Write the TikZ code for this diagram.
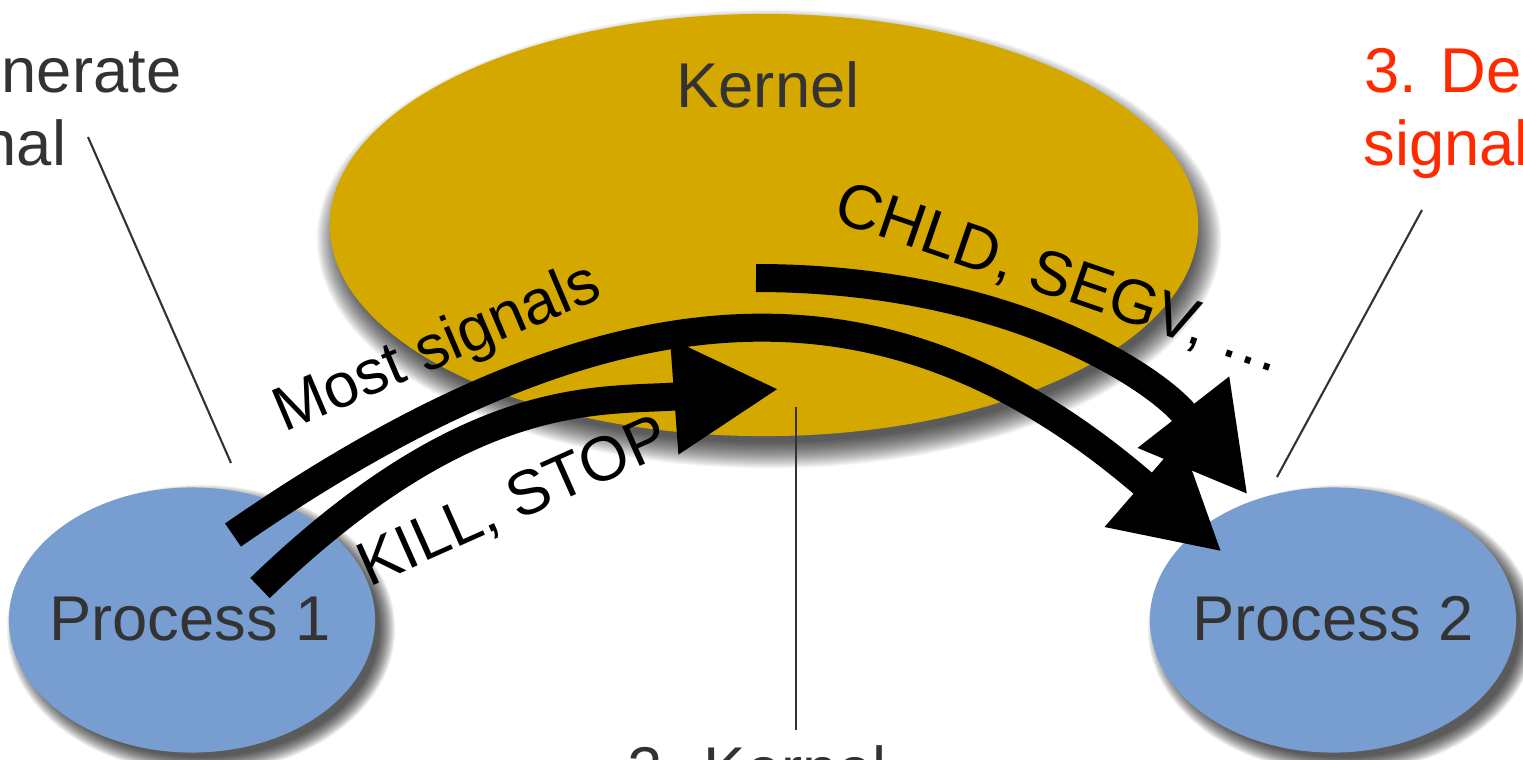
\documentclass[tikz,border=0pt]{standalone}
\usepackage{fontspec}
\setmainfont{Liberation Sans}
\usetikzlibrary{arrows.meta,shapes.geometric}

\definecolor{kernelgold}{RGB}{213,168,0}
\definecolor{procblue}{RGB}{120,157,208}
\definecolor{labelgray}{RGB}{51,51,51}
\definecolor{stepred}{RGB}{255,42,0}

% soft shadow under an oval: centre x, centre y, radius x, radius y, blur (picture units)
\newcommand\ovalshadow[5]{%
  \foreach \k in {0,...,19}{%
    \fill[black, opacity=0.046] (#1,#2) ellipse
      [x radius={(#3+#5*(0.7-\k/19))*0.01cm},
       y radius={(#4+#5*(0.7-\k/19))*0.01cm}];
  }}

\tikzset{
  big/.style={font=\fontsize{18pt}{21pt}\selectfont, text=labelgray, inner sep=0pt},
  flow/.style={font=\fontsize{17.8pt}{20pt}\selectfont, text=black, inner sep=0pt},
  oval/.style={ellipse, inner sep=0pt, draw=none},
  sigarrow/.style={line width=2.8mm, draw=black, line cap=butt,
    -{Triangle[length=10.5mm, width=10.8mm]}},
  callout/.style={line width=0.6pt, draw=labelgray},
}

\begin{document}
\begin{tikzpicture}[x=0.01cm, y=-0.01cm]
  \fill[white] (0,0) rectangle (1523,760);
  \useasboundingbox (0,0) rectangle (1523,760);

  % ovals with their shadows
  \ovalshadow{769}{239}{434}{211}{26}
  \node[oval, fill=kernelgold, minimum width=8.68cm, minimum height=4.22cm] (kernel) at (764,225) {};
  \ovalshadow{201}{629}{183}{133}{16}
  \ovalshadow{1342}{629}{183}{133}{16}
  \node[oval, fill=procblue, minimum width=3.66cm, minimum height=2.65cm] (proc1) at (192,620) {};
  \node[oval, fill=procblue, minimum width=3.66cm, minimum height=2.65cm] (proc2) at (1333,620) {};

  \node[big, anchor=base] (kname) at (768,107) {Kernel};
  \node[big, anchor=base] (p1name) at (190,640) {Process 1};
  \node[big, anchor=base] (p2name) at (1333,640) {Process 2};

  % step captions
  \node[big, anchor=base east] (gen1) at (182,92) {1. Generate};
  \node[big, anchor=base east] (gen2) at (67,165) {signal};
  \node[big, anchor=base west, text=stepred] (del1) at (1364,92) {3. Deliver};
  \node[big, anchor=base west, text=stepred] (del2) at (1363,165) {signal};
  \node[big, anchor=base west] (handle) at (627,791) {2. Kernel};

  % callout lines
  \coordinate (gen-a) at (88,137);   \coordinate (gen-b) at (231,463);
  \coordinate (del-a) at (1422,210); \coordinate (del-b) at (1277,477);
  \coordinate (han-a) at (796,407);  \coordinate (han-b) at (796,730);
  \draw[callout] (gen-a) -- (gen-b);
  \draw[callout] (del-a) -- (del-b);
  \draw[callout] (han-a) -- (han-b);

  % signal paths
  \coordinate (most-s) at (233,535);  \coordinate (most-e) at (1222,552);
  \coordinate (kill-s) at (260,588);  \coordinate (kill-e) at (779,389);
  \coordinate (chld-s) at (756,278);  \coordinate (chld-e) at (1248,495);
  \draw[sigarrow] (most-s) .. controls (621,266) and (895,268) .. (most-e);
  \draw[sigarrow] (kill-s) .. controls (470,385) and (600,402) .. (kill-e);
  \draw[sigarrow] (chld-s) .. controls (1006,278) and (1156,377) .. (chld-e);

  \node[flow, rotate=23] (most) at (438,350) {Most signals};
  \node[flow, rotate=24] (killstop) at (514,503) {KILL, STOP};
  \node[flow, rotate=-19] (chld) at (1060,280) {CHLD, SEGV, …};
\end{tikzpicture}
\end{document}
